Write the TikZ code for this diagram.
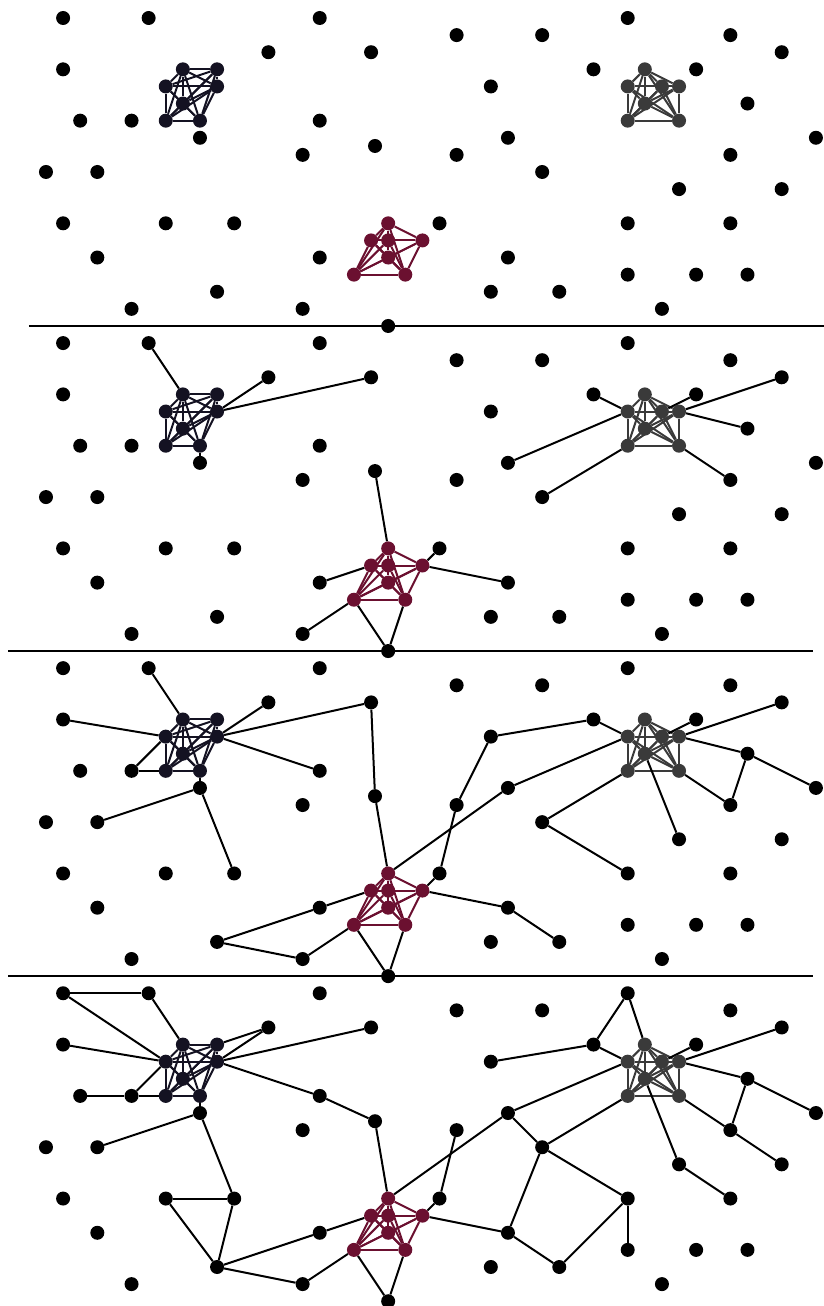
\documentclass[tikz,border=0pt]{standalone}
\usepackage{tikz}

\definecolor{navy}{RGB}{20,18,34}
\definecolor{wine}{RGB}{107,16,48}
\definecolor{slate}{RGB}{58,58,58}

\pgfdeclarelayer{edges}
\pgfsetlayers{edges,main}

\tikzset{
	dot/.style={circle,fill=black,inner sep=0pt,minimum size=14pt},
	link/.style={line width=2pt,black},
	rule/.style={line width=2pt,black}
}

% the points, the three cliques and their inner edges
\newcommand{\placedots}{%
	\foreach \cx/\ry in {1/0,6/0,16/0,34/0, 24/1,29/1,40/1, 13/2,19/2,43/2,
		1/3,32/3,38/3, 26/4, 41/5, 2/6,5/6,16/6, 9/7,27/7,45/7,
		15/8,24/8,40/8, 0/9,3/9,29/9, 37/10,43/10,
		1/12,7/12,11/12,23/12,34/12,40/12, 3/14,16/14,27/14,
		34/15,38/15,41/15, 10/16,26/16,30/16, 5/17,15/17,36/17, 20/18}
		\node[dot] (\cx-\ry) at (\cx,\ry) {};
	\node[dot] (mid) at (19.23,7.48) {};
	\foreach \cx/\ry [count=\i] in {8/3,10/3,7/4,10/4,8/5,7/6,9/6}
		\node[dot,fill=navy] (n\i) at (\cx,\ry) {};
	\foreach \cx/\ry [count=\i] in {20/12,19/13,20/13,22/13,20/14,18/15,21/15}
		\node[dot,fill=wine] (r\i) at (\cx,\ry) {};
	\foreach \cx/\ry [count=\i] in {35/3,34/4,36/4,37/4,35/5,34/6,37/6}
		\node[dot,fill=slate] (g\i) at (\cx,\ry) {};
	\begin{pgfonlayer}{edges}
		\foreach \a in {1,...,6}{
			\pgfmathtruncatemacro\b{\a+1}
			\foreach \z in {\b,...,7}{
				\draw[link,navy] (n\a) -- (n\z);
				\draw[link,wine] (r\a) -- (r\z);
				\draw[link,slate] (g\a) -- (g\z);
			}
		}
	\end{pgfonlayer}
}

\newcommand{\firstlinks}{6-0/n1, 13-2/n4, 19-2/n4, n7/9-7, mid/r1, 16-14/r2,
	15-17/r6, r6/20-18, r7/20-18, 32-3/g2, 38-3/g3, 43-2/g4, 41-5/g4,
	27-7/g2, 29-9/g6, 40-8/g7, 23-12/r4, r4/27-14}
\newcommand{\morelinks}{1-3/n3, n4/16-6, 5-6/n6, 5-6/n3, 9-7/3-9, 9-7/11-12,
	16-14/10-16, 10-16/15-17, r1/27-7, 26-4/32-3, 24-8/23-12, 27-14/30-16,
	29-9/34-12, g5/37-10, 41-5/45-7, 41-5/40-8}

\begin{document}
\begin{tikzpicture}[x=17.11pt,y=-17.11pt]
	\useasboundingbox (-2.688,-1.052) rectangle (45.47,75.28);
	
	% panel 1: no links yet
	\begin{scope}[name prefix=a-]
		\placedots
		\begin{pgfonlayer}{edges}
			\draw[rule] (-1,18) -- (45.47,18);
		\end{pgfonlayer}
	\end{scope}
	
	% panel 2
	\begin{scope}[shift={(0,19)},name prefix=b-]
		\placedots
		\begin{pgfonlayer}{edges}
			\draw[rule] (-2.22,18) -- (44.83,18);
			\foreach \u/\v in \firstlinks
				\draw[link] (\u) -- (\v);
		\end{pgfonlayer}
	\end{scope}
	
	% panel 3
	\begin{scope}[shift={(0,38)},name prefix=c-]
		\placedots
		\begin{pgfonlayer}{edges}
			\draw[rule] (-2.22,18) -- (44.83,18);
			\foreach \u/\v in \firstlinks
				\draw[link] (\u) -- (\v);
			\foreach \u/\v in \morelinks
				\draw[link] (\u) -- (\v);
			\draw[link] (19-2) -- (mid) (26-4) -- (24-8);
		\end{pgfonlayer}
	\end{scope}
	
	% panel 4
	\begin{scope}[shift={(0,57)},name prefix=d-]
		\placedots
		\begin{pgfonlayer}{edges}
			\foreach \u/\v in \firstlinks
				\draw[link] (\u) -- (\v);
			\foreach \u/\v in \morelinks
				\draw[link] (\u) -- (\v);
			\foreach \u/\v in {1-0/6-0, 1-0/n3, 13-2/n2, 16-6/mid, 2-6/5-6,
				7-12/11-12, 7-12/10-16, 11-12/10-16, 34-0/32-3, 34-0/g1,
				27-7/29-9, 29-9/27-14, 30-16/34-12, 34-12/34-15,
				37-10/40-12, 40-8/43-10}
				\draw[link] (\u) -- (\v);
		\end{pgfonlayer}
	\end{scope}
\end{tikzpicture}
\end{document}
